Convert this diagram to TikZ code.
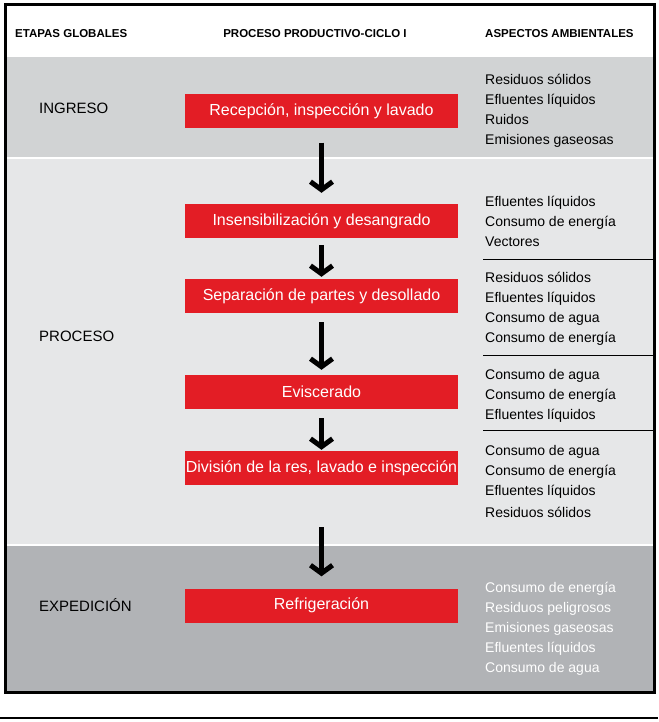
\documentclass[tikz,border=0pt]{standalone}
\usepackage{fontspec}
\setmainfont{Liberation Sans}
\usetikzlibrary{arrows.meta}
\definecolor{rojo}{HTML}{E31D25}
\definecolor{grisA}{HTML}{D1D3D4}
\definecolor{grisB}{HTML}{E6E7E8}
\definecolor{grisC}{HTML}{B1B3B6}
\tikzset{
  titulo/.style={anchor=base, inner sep=0pt, font=\bfseries\fontsize{11.5}{14}\selectfont},
  etapa/.style={anchor=base west, inner sep=0pt, font=\fontsize{15}{18}\selectfont},
  paso/.style={fill=rojo, text=white, minimum width=273pt, minimum height=34pt, inner sep=0pt, font=\fontsize{16}{19}\selectfont},
  aspecto/.style={anchor=base west, inner sep=0pt, font=\fontsize{14}{17}\selectfont},
  flecha/.style={line width=5pt, -{Straight Barb[length=8pt,width=22pt]}},
}
\begin{document}
\begin{tikzpicture}[x=1pt,y=-1pt]
\useasboundingbox (0,0) rectangle (658,722);
\fill[grisA] (5,57) rectangle (654,157.5);
\fill[grisB] (5,159.5) rectangle (654,543.5);
\fill[grisC] (5,545.5) rectangle (654,691);
\draw[line width=3pt] (5,4.5) rectangle (654.5,692.5);
\draw[line width=1.2pt] (0,718) -- (658,718);
\draw[line width=1pt] (483,259.5) -- (653,259.5);
\draw[line width=1pt] (483,355) -- (653,355);
\draw[line width=1pt] (483,430.5) -- (653,430.5);
\node[titulo, anchor=base west] (tit1) at (15,38) {ETAPAS GLOBALES};
\node[titulo] (tit2) at (315,38) {PROCESO PRODUCTIVO-CICLO I};
\node[titulo, anchor=base west] (tit3) at (485,38) {ASPECTOS AMBIENTALES};
\node[etapa] (ingreso) at (39,114) {INGRESO};
\node[etapa] (proceso) at (39,341) {PROCESO};
\node[etapa] (expedicion) at (39,611.5) {EXPEDICIÓN};
\node[paso] (recepcion) at (321.5,111.5) {Recepción, inspección y lavado};
\node[paso] (insens) at (321.5,221) {Insensibilización y desangrado};
\node[paso] (separacion) at (321.5,296) {Separación de partes y desollado};
\node[paso] (eviscerado) at (321.5,392) {Eviscerado};
\node[paso] (division) at (321.5,468) {División de la res, lavado e inspección};
\node[paso] (refrig) at (321.5,605.5) {Refrigeración};
\draw[flecha, shorten <=14pt, shorten >=11pt] (recepcion) -- (insens);
\draw[flecha, shorten <=7pt, shorten >=2pt] (insens) -- (separacion);
\draw[flecha, shorten <=9pt, shorten >=5pt] (separacion) -- (eviscerado);
\draw[flecha, shorten <=9pt, shorten >=1pt] (eviscerado) -- (division);
\draw[flecha, shorten <=42pt, shorten >=12pt] (division) -- (refrig);
\foreach \t/\y [count=\i] in {Residuos sólidos/85, Efluentes líquidos/105, Ruidos/125, Emisiones gaseosas/145}
  \node[aspecto] (ing-\i) at (485,\y) {\t};
\foreach \t/\y [count=\i] in {Efluentes líquidos/206, Consumo de energía/226, Vectores/246}
  \node[aspecto] (ins-\i) at (485,\y) {\t};
\foreach \t/\y [count=\i] in {Residuos sólidos/282, Efluentes líquidos/302, Consumo de agua/322, Consumo de energía/342}
  \node[aspecto] (sep-\i) at (485,\y) {\t};
\foreach \t/\y [count=\i] in {Consumo de agua/379, Consumo de energía/399, Efluentes líquidos/419}
  \node[aspecto] (evi-\i) at (485,\y) {\t};
\foreach \t/\y [count=\i] in {Consumo de agua/455, Consumo de energía/475, Efluentes líquidos/495, Residuos sólidos/517}
  \node[aspecto] (div-\i) at (485,\y) {\t};
\foreach \t/\y [count=\i] in {Consumo de energía/592, Residuos peligrosos/612, Emisiones gaseosas/632, Efluentes líquidos/652, Consumo de agua/672}
  \node[aspecto, text=white] (ref-\i) at (485,\y) {\t};
\end{tikzpicture}
\end{document}
